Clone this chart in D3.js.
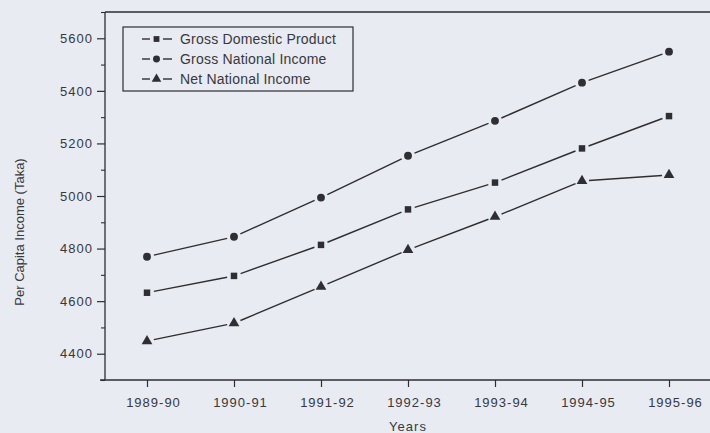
<!DOCTYPE html>
<html>
<head>
<meta charset="utf-8">
<script src="https://cdn.jsdelivr.net/npm/d3@7"></script>
<style>
  html, body { margin: 0; padding: 0; background: #e8ebf1; }
  svg { display: block; }
</style>
</head>
<body>
<svg id="chart" width="710" height="433"></svg>
<script>
const years = ["1989-90", "1990-91", "1991-92", "1992-93", "1993-94", "1994-95", "1995-96"];
const gdp = [4632, 4696, 4814, 4949, 5051, 5181, 5304];
const gni = [4769, 4845, 4994, 5153, 5286, 5431, 5549];
const nni = [4448, 4516, 4655, 4795, 4921, 5057, 5080];
const seriesNames = ["Gross Domestic Product", "Gross National Income", "Net National Income"];
const yTicks = [4400, 4600, 4800, 5000, 5200, 5400, 5600];
const yMinorTicks = [4300, 4500, 4700, 4900, 5100, 5300, 5500, 5700];

const series = [
  { name: seriesNames[0], values: gdp, symbol: d3.symbolSquare, size: 42 },
  { name: seriesNames[1], values: gni, symbol: d3.symbolCircle, size: 48 },
  { name: seriesNames[2], values: nni, symbol: d3.symbolTriangle, size: 50 }
];

const svg = d3.select("#chart");
const ink = "#2e2e33";
const txt = "#38383e";
const font = "Liberation Sans, Arial, sans-serif";

const mLeft = 105, mRight = 710, mTop = 12, mBottom = 380;
const x = d3.scalePoint().domain(years).range([147, 669]);
const y = d3.scaleLinear().domain([4300, 5700]).range([mBottom, mTop]);

// frame line
svg.append("line").attr("x1", mLeft).attr("x2", mRight).attr("y1", mTop).attr("y2", mTop)
  .attr("stroke", ink).attr("stroke-width", 1.3);

// y axis
const yAxis = svg.append("g").attr("transform", `translate(${mLeft},0)`)
  .call(d3.axisLeft(y).tickValues(yTicks).tickSize(8).tickPadding(4).tickFormat(d3.format("d")));
yAxis.select(".domain").attr("stroke", ink).attr("stroke-width", 1.3).attr("d", `M0,${mTop}V${mBottom}`);
yAxis.selectAll(".tick line").attr("stroke", ink).attr("stroke-width", 1.2);
yAxis.selectAll(".tick text").attr("fill", txt).attr("font-family", font)
  .attr("font-size", 13).attr("letter-spacing", 1);
const yMinor = svg.append("g").attr("transform", `translate(${mLeft},0)`)
  .call(d3.axisLeft(y).tickValues(yMinorTicks).tickSize(4).tickFormat(""));
yMinor.select(".domain").remove();
yMinor.selectAll(".tick line").attr("stroke", ink).attr("stroke-width", 1.1);

// x axis
const xAxis = svg.append("g").attr("transform", `translate(0,${mBottom})`)
  .call(d3.axisBottom(x).tickSize(7).tickPadding(11));
xAxis.select(".domain").attr("stroke", ink).attr("stroke-width", 1.3).attr("d", `M${mLeft - 5},0H${mRight}`);
xAxis.selectAll(".tick line").attr("stroke", ink).attr("stroke-width", 1.2);
xAxis.selectAll(".tick text").attr("fill", txt).attr("font-family", font)
  .attr("font-size", 13).attr("letter-spacing", 1).attr("dx", 6);

// axis titles
svg.append("text").attr("x", x("1992-93")).attr("y", 431).attr("text-anchor", "middle")
  .attr("font-family", font).attr("font-size", 13).attr("fill", txt).attr("letter-spacing", 1)
  .text("Years");
svg.append("text").attr("transform", "translate(24,232) rotate(-90)").attr("text-anchor", "middle")
  .attr("font-family", font).attr("font-size", 13).attr("fill", txt)
  .text("Per Capita Income (Taka)");

// series: lines with gaps around markers
const gap = 7;
series.forEach(s => {
  const pts = s.values.map((v, i) => [x(years[i]), y(v)]);
  for (let i = 0; i < pts.length - 1; i++) {
    const [x1, y1] = pts[i], [x2, y2] = pts[i + 1];
    const dx = x2 - x1, dy = y2 - y1, len = Math.hypot(dx, dy);
    const ux = dx / len, uy = dy / len;
    svg.append("line")
      .attr("x1", x1 + ux * gap).attr("y1", y1 + uy * gap)
      .attr("x2", x2 - ux * gap).attr("y2", y2 - uy * gap)
      .attr("stroke", ink).attr("stroke-width", 1.4);
  }
  svg.append("g").selectAll("path").data(s.values).join("path")
    .attr("transform", (d, i) => `translate(${x(years[i])},${y(d)})`)
    .attr("d", d3.symbol().type(s.symbol).size(s.size))
    .attr("fill", ink);
});

// legend
const lg = svg.append("g");
lg.append("rect").attr("x", 123).attr("y", 27).attr("width", 230).attr("height", 64)
  .attr("fill", "none").attr("stroke", ink).attr("stroke-width", 1.2);
series.forEach((s, i) => {
  const cy = 39 + i * 20;
  lg.append("line").attr("x1", 142).attr("x2", 150).attr("y1", cy).attr("y2", cy).attr("stroke", ink).attr("stroke-width", 1.4);
  lg.append("line").attr("x1", 163).attr("x2", 172).attr("y1", cy).attr("y2", cy).attr("stroke", ink).attr("stroke-width", 1.4);
  lg.append("path").attr("transform", `translate(156.5,${cy})`)
    .attr("d", d3.symbol().type(s.symbol).size(s.size * 0.8)).attr("fill", ink);
  lg.append("text").attr("x", 180).attr("y", cy).attr("dy", "0.35em")
    .attr("font-family", font).attr("font-size", 14).attr("letter-spacing", 0.2).attr("fill", txt)
    .text(s.name);
});
</script>
</body>
</html>
